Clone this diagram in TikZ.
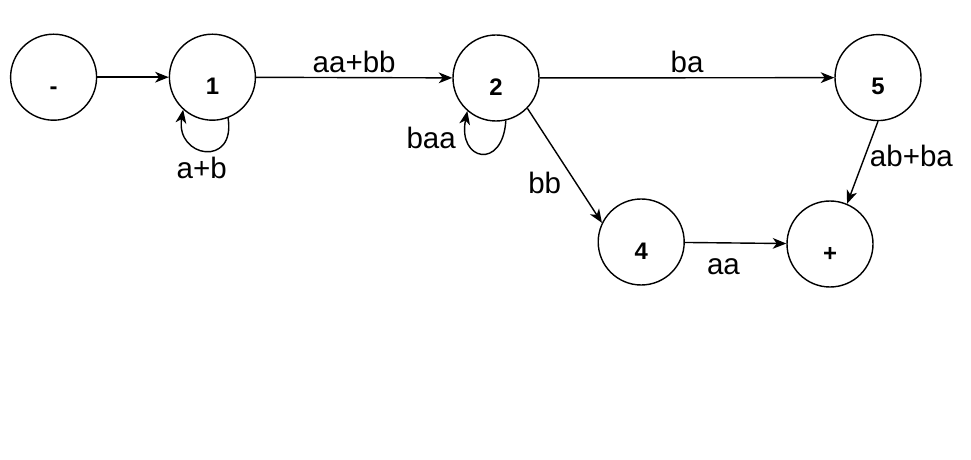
\documentclass[tikz,border=0pt]{standalone}
\usepackage{fontspec}
\setmainfont{Liberation Sans}
\usetikzlibrary{arrows.meta}

\begin{document}
\begin{tikzpicture}[>={Stealth[length=3.4mm,width=2.7mm,inset=1mm]},line width=1pt,
 st/.style={draw,circle,minimum size=2.15cm,inner sep=0pt,text height=0.86cm,text depth=0cm,font=\fontsize{17}{20}\selectfont\bfseries},
 lab/.style={font=\fontsize{21}{25}\selectfont,inner sep=3pt}]
\useasboundingbox (0,0) rectangle (24.275,-11.5);
\node[st] (m) at (1.34,-1.93) {-};
\node[st] (n1) at (5.31,-1.93) {1};
\node[st] (n2) at (12.4,-1.95) {2};
\node[st] (n5) at (21.95,-1.94) {5};
\node[st] (n4) at (16.03,-6.05) {4};
\node[st] (np) at (20.75,-6.1) {+};
\draw[->] (m) -- (n1);
\draw[->] (n1) -- (n2) node[lab,midway,above] {aa+bb};
\draw[->] (n2) -- (n5) node[lab,midway,above] {ba};
\draw[->] (n2.-44) -- (n4.154) node[lab,pos=.65,left=7pt] {bb};
\draw[->] (n4) -- (np) node[lab,pos=.38,below=8pt] {aa};
\draw[->] (n5.south) -- (np.67) node[lab,pos=.42,right] {ab+ba};
% self loops
\draw[->] (n1.-69) .. controls +(0.2,-1.25) and +(-0.2,-1.2) .. (n1.-132) node[lab,pos=.55,below=2pt] {a+b};
\draw[->] (n2.-77) .. controls +(-0.075,-1.25) and +(-0.25,-1.25) .. (n2.-131) node[lab,pos=.78,left=5pt] {baa};
\end{tikzpicture}
\end{document}
